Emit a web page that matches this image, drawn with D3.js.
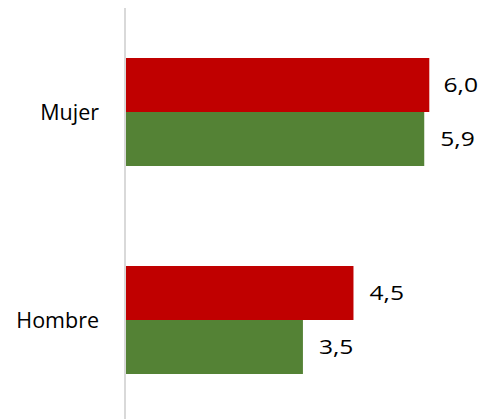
<!DOCTYPE html>
<html>
<head>
<meta charset="utf-8">
<script src="https://cdn.jsdelivr.net/npm/d3@7"></script>
<style>
  html, body { margin: 0; padding: 0; background: #ffffff; }
  svg { display: block; }
  text { font-family: "Open Sans", "Noto Sans", sans-serif; fill: #000; }
</style>
</head>
<body>
<div id="chart"></div>
<script>
// Data
const categories = ["Mujer", "Hombre"];
const seriesNames = ["Serie 1", "Serie 2"];
const serie1 = [6.0, 4.5];
const serie2 = [5.9, 3.5];
const colors = ["#C00000", "#548235"];

const W = 481, H = 419;
const svg = d3.select("#chart").append("svg").attr("width", W).attr("height", H);

const x = d3.scaleLinear().domain([0, 6]).range([126, 429.3]);
const y0 = d3.scaleBand().domain(categories).range([8, 424])
  .paddingInner(0.4808).paddingOuter(0.2404);
const y1 = d3.scaleBand().domain(seriesNames).range([0, y0.bandwidth()]);

const rows = categories.map((c, i) => ({ cat: c, vals: [serie1[i], serie2[i]] }));

const g = svg.selectAll("g.cat").data(rows).join("g")
  .attr("class", "cat")
  .attr("transform", d => `translate(0,${y0(d.cat)})`);

g.selectAll("rect").data(d => d.vals.map((v, j) => ({ v, s: seriesNames[j], j })))
  .join("rect")
  .attr("x", x(0))
  .attr("y", d => y1(d.s))
  .attr("width", d => x(d.v) - x(0))
  .attr("height", y1.bandwidth())
  .attr("fill", d => colors[d.j]);

const fmt = v => d3.format(".1f")(v).replace(".", ",");

g.selectAll("text.val").data(d => d.vals.map((v, j) => ({ v, s: seriesNames[j], j })))
  .join("text")
  .attr("class", "val")
  .attr("y", d => y1(d.s) + y1.bandwidth() / 2)
  .attr("dy", "0.36em")
  .attr("font-size", 20.5)
  .text(d => fmt(d.v))
  .each(function(d) {
    const w = this.getComputedTextLength() * 1.2;
    d3.select(this)
      .attr("textLength", w)
      .attr("lengthAdjust", "spacingAndGlyphs")
      .attr("x", Math.min(x(d.v) + 16, W - 3 - w));
  });

// Category axis
const axis = svg.append("g").attr("transform", `translate(125,0)`);
axis.append("line").attr("x1", 0).attr("x2", 0).attr("y1", 8).attr("y2", H)
  .attr("stroke", "#D9D9D9").attr("stroke-width", 2);
axis.selectAll("text").data(categories).join("text")
  .attr("x", -26)
  .attr("y", d => y0(d) + y0.bandwidth() / 2)
  .attr("dy", "0.36em")
  .attr("text-anchor", "end")
  .attr("font-size", 21.5)
  .text(d => d);
</script>
</body>
</html>
